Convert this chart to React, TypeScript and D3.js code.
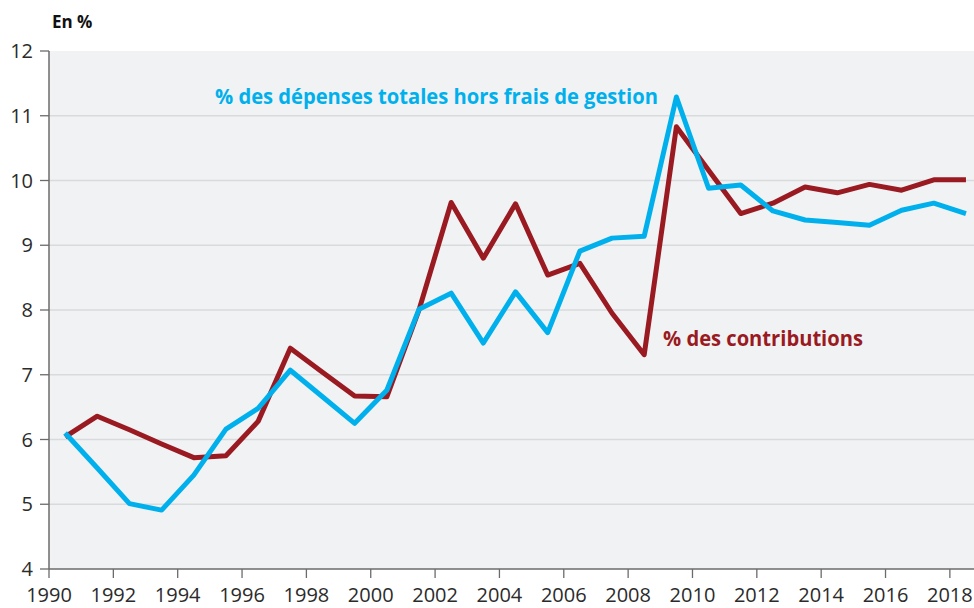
import React from "react";
import * as d3 from "d3";

const years: number[] = [
  1990, 1991, 1992, 1993, 1994, 1995, 1996, 1997, 1998, 1999,
  2000, 2001, 2002, 2003, 2004, 2005, 2006, 2007, 2008, 2009,
  2010, 2011, 2012, 2013, 2014, 2015, 2016, 2017, 2018,
];

const depenses: number[] = [
  6.10, 5.56, 5.01, 4.91, 5.45, 6.16, 6.48, 7.07, 6.66, 6.25,
  6.76, 8.01, 8.26, 7.49, 8.28, 7.65, 8.91, 9.11, 9.14, 11.29,
  9.88, 9.93, 9.53, 9.39, 9.35, 9.31, 9.54, 9.65, 9.49,
];

const contributions: number[] = [
  6.04, 6.36, 6.15, 5.93, 5.72, 5.75, 6.28, 7.41, 7.04, 6.67,
  6.66, 8.0, 9.66, 8.80, 9.64, 8.54, 8.72, 7.95, 7.31, 10.83,
  10.16, 9.49, 9.65, 9.90, 9.81, 9.94, 9.85, 10.01, 10.01,
];

const yTicks: number[] = [4, 5, 6, 7, 8, 9, 10, 11, 12];
const xTicks: number[] = [1990, 1992, 1994, 1996, 1998, 2000, 2002, 2004, 2006, 2008, 2010, 2012, 2014, 2016, 2018];

const W = 974;
const H = 608;
const left = 49;
const right = 974;
const top = 51;
const bottom = 569;

const BLUE = "#00b0ec";
const RED = "#9a1a22";
const FONT = "'Open Sans', 'DejaVu Sans', sans-serif";

export default function App() {
  const x = d3.scaleLinear().domain([1990, 2018.75]).range([left, right]);
  const y = d3.scaleLinear().domain([4, 12]).range([bottom, top]);

  const line = d3
    .line<number>()
    .x((_, i) => x(years[i] + 0.5))
    .y((d) => y(d));

  return (
    <svg
      width={W}
      height={H}
      style={{ position: "absolute", left: 0, top: 0, background: "#fff" }}
    >
      <rect x={left} y={top} width={right - left} height={bottom - top} fill="#f1f2f4" />
      {yTicks.slice(1, -1).map((t) => (
        <line key={"g" + t} x1={left} x2={right} y1={y(t)} y2={y(t)} stroke="#d9dadc" strokeWidth={1.3} />
      ))}
      <line x1={left} x2={left} y1={top} y2={bottom} stroke="#6b6b6b" strokeWidth={1.5} />
      <line x1={left} x2={right} y1={bottom} y2={bottom} stroke="#6b6b6b" strokeWidth={1.5} />
      {yTicks.map((t) => (
        <g key={"y" + t}>
          <line x1={left - 9} x2={left} y1={y(t)} y2={y(t)} stroke="#6b6b6b" strokeWidth={1.3} />
          <text x={33} y={y(t)} dy="0.35em" textAnchor="end" fontFamily={FONT} fontSize={20} fill="#2b2b2b">
            {t}
          </text>
        </g>
      ))}
      {xTicks.map((t) => (
        <g key={"x" + t}>
          <line x1={x(t)} x2={x(t)} y1={bottom} y2={bottom + 9} stroke="#6b6b6b" strokeWidth={1.3} />
          <text x={x(t)} y={602} textAnchor="middle" fontFamily={FONT} fontSize={20} fill="#2b2b2b">
            {t}
          </text>
        </g>
      ))}
      <text x={52} y={28} fontFamily={FONT} fontSize={17} fontWeight="bold" fill="#111">
        En %
      </text>
      <path d={line(contributions) || ""} fill="none" stroke={RED} strokeWidth={5} strokeLinejoin="round" />
      <path d={line(depenses) || ""} fill="none" stroke={BLUE} strokeWidth={5} strokeLinejoin="round" />
      <text
        x={215}
        y={104}
        fontFamily={FONT}
        fontSize={21}
        fontWeight="bold"
        fill={BLUE}
        textLength={443}
        lengthAdjust="spacingAndGlyphs"
      >
        % des dépenses totales hors frais de gestion
      </text>
      <text
        x={663}
        y={346}
        fontFamily={FONT}
        fontSize={21}
        fontWeight="bold"
        fill={RED}
        textLength={200}
        lengthAdjust="spacingAndGlyphs"
      >
        % des contributions
      </text>
    </svg>
  );
}
